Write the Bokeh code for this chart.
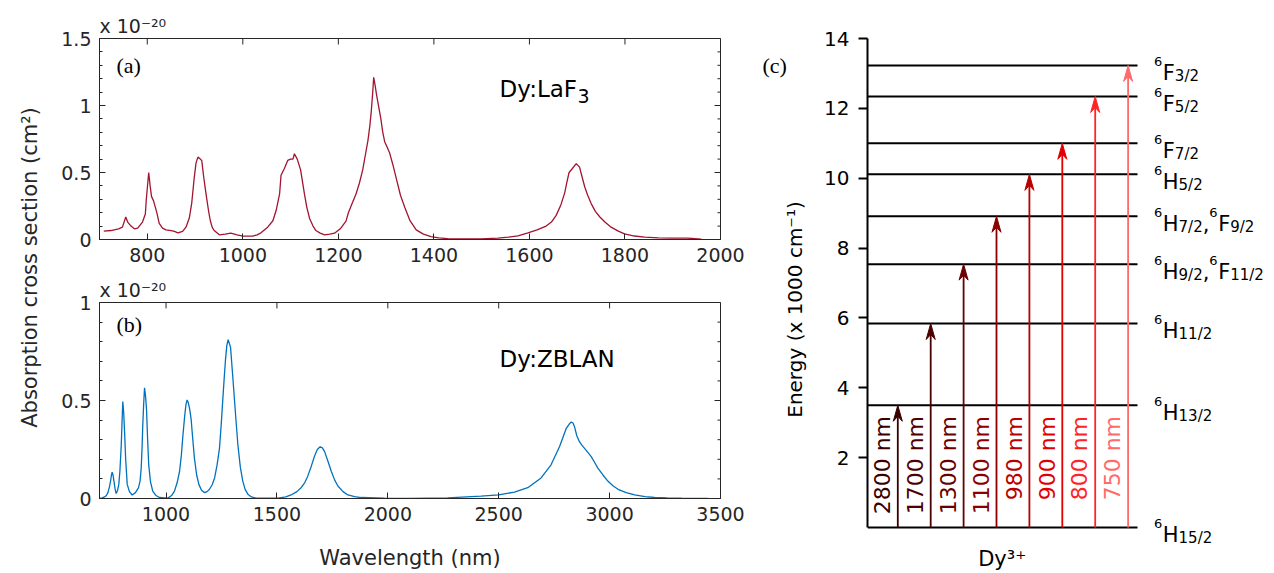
import math
from bokeh.plotting import figure
from bokeh.layouts import row, column
from bokeh.models import Range1d, FixedTicker, Label, NumeralTickFormatter, ColumnDataSource
from bokeh.core.properties import value
from bokeh.embed import file_html
from bokeh.resources import INLINE

# ---------------- data ----------------
laf3_wl = [709, 724, 740, 748, 755, 759, 766, 773, 780, 790, 796, 798, 803, 806, 809, 813, 820, 825, 832, 839,
           850, 857, 864, 874, 881, 888, 893, 898, 902, 906, 911, 914, 918, 923, 928, 932, 936, 940, 951, 963,
           975, 988, 1000, 1021, 1030, 1038, 1052, 1063, 1070, 1077, 1080, 1087, 1094, 1100, 1105, 1108, 1114,
           1121, 1125, 1129, 1134, 1140, 1147, 1153, 1162, 1171, 1182, 1192, 1204, 1216, 1221, 1229, 1237, 1244,
           1251, 1257, 1262, 1266, 1269, 1272, 1274, 1277, 1280, 1285, 1289, 1293, 1297, 1302, 1307, 1314, 1321,
           1330, 1339, 1350, 1363, 1378, 1394, 1410, 1429, 1460, 1499, 1534, 1556, 1576, 1597, 1616, 1635, 1646,
           1656, 1666, 1674, 1678, 1683, 1690, 1698, 1705, 1710, 1716, 1722, 1729, 1738, 1747, 1758, 1771, 1785,
           1799, 1820, 1841, 1870, 1897, 1932, 1960]
laf3_cs = [0.062, 0.067, 0.080, 0.092, 0.168, 0.13, 0.10, 0.08, 0.085, 0.13, 0.19, 0.30, 0.50, 0.40, 0.32, 0.29,
           0.20, 0.12, 0.085, 0.072, 0.067, 0.060, 0.050, 0.060, 0.092, 0.16, 0.27, 0.45, 0.57, 0.615, 0.60, 0.59,
           0.47, 0.34, 0.22, 0.14, 0.09, 0.067, 0.035, 0.040, 0.047, 0.035, 0.025, 0.025, 0.035, 0.050, 0.092,
           0.14, 0.22, 0.34, 0.48, 0.53, 0.59, 0.60, 0.60, 0.64, 0.60, 0.52, 0.43, 0.34, 0.24, 0.155, 0.10,
           0.067, 0.048, 0.035, 0.040, 0.047, 0.08, 0.137, 0.20, 0.27, 0.34, 0.42, 0.52, 0.64, 0.74, 0.85, 0.96,
           1.10, 1.21, 1.15, 1.08, 0.98, 0.90, 0.80, 0.73, 0.69, 0.65, 0.56, 0.46, 0.33, 0.24, 0.14, 0.072, 0.04,
           0.022, 0.012, 0.007, 0.005, 0.005, 0.010, 0.017, 0.027, 0.050, 0.072, 0.10, 0.13, 0.18, 0.26, 0.35,
           0.42, 0.50, 0.53, 0.566, 0.54, 0.47, 0.39, 0.33, 0.27, 0.21, 0.17, 0.13, 0.092, 0.064, 0.042, 0.026,
           0.017, 0.012, 0.010, 0.010, 0.002]

zblan_wl = [700, 712, 723, 731, 738, 745, 750, 754, 757, 761, 765, 770, 775, 781, 787, 792, 798, 802, 805, 809,
            813, 818, 825, 835, 847, 862, 876, 883, 888, 892, 895, 899, 903, 907, 912, 917, 922, 930, 940, 955,
            970, 1008, 1025, 1038, 1050, 1061, 1069, 1076, 1084, 1090, 1095, 1100, 1106, 1113, 1120, 1128, 1138,
            1148, 1160, 1174, 1185, 1196, 1208, 1219, 1230, 1241, 1249, 1256, 1262, 1268, 1274, 1280, 1286, 1291,
            1297, 1304, 1314, 1324, 1335, 1346, 1357, 1369, 1385, 1406, 1504, 1540, 1564, 1590, 1609, 1625, 1639,
            1655, 1669, 1682, 1695, 1705, 1715, 1730, 1745, 1760, 1775, 1798, 1820, 1850, 1880, 1985, 2100, 2270,
            2420, 2500, 2571, 2631, 2691, 2736, 2774, 2804, 2818, 2827, 2835, 2842, 2852, 2864, 2875, 2887, 2902,
            2917, 2932, 2947, 2970, 2992, 3015, 3038, 3075, 3113, 3160, 3203, 3260, 3324, 3444]
zblan_cs = [0.000, 0.003, 0.008, 0.015, 0.030, 0.060, 0.090, 0.120, 0.134, 0.120, 0.090, 0.050, 0.025, 0.040,
            0.072, 0.14, 0.27, 0.40, 0.495, 0.44, 0.34, 0.20, 0.072, 0.035, 0.018, 0.030, 0.055, 0.09, 0.155,
            0.26, 0.37, 0.48, 0.565, 0.53, 0.456, 0.30, 0.17, 0.085, 0.038, 0.015, 0.005, 0.002, 0.015, 0.038,
            0.08, 0.139, 0.22, 0.32, 0.42, 0.48, 0.503, 0.49, 0.46, 0.406, 0.31, 0.206, 0.12, 0.072, 0.042, 0.030,
            0.035, 0.047, 0.07, 0.105, 0.17, 0.256, 0.38, 0.507, 0.61, 0.707, 0.78, 0.81, 0.79, 0.77, 0.68,
            0.574, 0.42, 0.273, 0.16, 0.089, 0.045, 0.022, 0.008, 0.002, 0.002, 0.008, 0.018, 0.035, 0.055, 0.08,
            0.114, 0.165, 0.214, 0.25, 0.264, 0.258, 0.239, 0.19, 0.139, 0.095, 0.064, 0.035, 0.018, 0.010,
            0.005, 0.002, 0.001, 0.003, 0.012, 0.018, 0.033, 0.055, 0.105, 0.172, 0.264, 0.356, 0.38, 0.39,
            0.385, 0.365, 0.32, 0.29, 0.272, 0.256, 0.235, 0.214, 0.185, 0.155, 0.12, 0.089, 0.065, 0.047, 0.030,
            0.018, 0.010, 0.005, 0.003, 0.002, 0.001]

a_xticks = [800, 1000, 1200, 1400, 1600, 1800, 2000]
a_yticks = [0, 0.5, 1, 1.5]
b_xticks = [1000, 1500, 2000, 2500, 3000, 3500]
b_yticks = [0, 0.5, 1]
c_yticks = [2, 4, 6, 8, 10, 12, 14]

# energy levels of Dy3+ (x1000 cm^-1) and their term labels (multiplicity, letter, J)
level_energy = [0.0, 3.50, 5.84, 7.54, 8.91, 10.11, 11.00, 12.34, 13.23]
level_terms = [[("6", "H", "15/2")], [("6", "H", "13/2")], [("6", "H", "11/2")],
               [("6", "H", "9/2"), ("6", "F", "11/2")], [("6", "H", "7/2"), ("6", "F", "9/2")],
               [("6", "H", "5/2")], [("6", "F", "7/2")], [("6", "F", "5/2")], [("6", "F", "3/2")]]
pump_wl = ["2800 nm", "1700 nm", "1300 nm", "1100 nm", "980 nm", "900 nm", "800 nm", "750 nm"]
pump_target = [1, 2, 3, 4, 5, 6, 7, 8]
pump_colors = ["#3a0000", "#4c0000", "#680000", "#8a0000", "#b80000", "#e00000", "#ff2424", "#ff6a6a"]

# ---------------- styling helpers ----------------
AX = "#262626"
FONT = "DejaVu Sans"
SERIF = "Liberation Serif"
TOTAL_H = 572
TOP = 38


def strip(w, h):
    f = figure(width=w, height=h, x_range=Range1d(0, w), y_range=Range1d(0, h - TOP),
               output_backend="svg", toolbar_location=None, x_axis_location=None, y_axis_location=None,
               min_border=0, min_border_top=TOP)
    f.outline_line_color = None
    f.grid.visible = False
    return f


def style_axis(ax, ticks, minor, fmt=None):
    ax.ticker = FixedTicker(ticks=ticks, minor_ticks=minor)
    ax.axis_line_color = AX
    ax.axis_line_width = 1
    ax.major_tick_line_color = AX
    ax.minor_tick_line_color = AX
    ax.major_tick_in = 6
    ax.major_tick_out = 0
    ax.minor_tick_in = 3
    ax.minor_tick_out = 0
    ax.major_label_text_font = FONT
    ax.major_label_text_font_size = "19px"
    ax.major_label_text_color = AX
    ax.major_label_standoff = 8
    if fmt is not None:
        ax.formatter = fmt


def spectrum_panel(w, h, xr, yr, xt, yt, ymin_step, btop, bbot, wl, cs, color, fw, fh):
    p = figure(width=w, height=h, x_range=Range1d(*xr), y_range=Range1d(*yr),
               output_backend="svg", toolbar_location=None, title="x 10⁻²⁰",
               min_border_left=46, min_border_right=w - 46 - fw, min_border_top=btop, min_border_bottom=bbot)
    p.title.align = "left"
    p.title.text_font = FONT
    p.title.text_font_size = "19px"
    p.title.text_font_style = "normal"
    p.title.text_color = AX
    p.title.standoff = 3
    p.title.offset = 0
    p.grid.visible = False
    p.outline_line_color = AX
    p.outline_line_width = 1
    n = int(round((yr[1] - yr[0]) / ymin_step))
    yminor = [round(yr[0] + i * ymin_step, 3) for i in range(n + 1)]
    style_axis(p.xaxis[0], xt, [])
    style_axis(p.yaxis[0], yt, yminor, fmt=NumeralTickFormatter(format="0.[0]"))
    # mirrored ticks on top and right edges of the box
    xpx = (xr[1] - xr[0]) / fw
    ypx = (yr[1] - yr[0]) / fh
    p.segment(x0=xt, y0=[yr[1]] * len(xt), x1=xt, y1=[yr[1] - 6 * ypx] * len(xt), line_color=AX, line_width=1)
    p.segment(x0=[xr[1]] * len(yt), y0=yt, x1=[xr[1] - 6 * xpx] * len(yt), y1=yt, line_color=AX, line_width=1)
    p.segment(x0=[xr[1]] * len(yminor), y0=yminor, x1=[xr[1] - 3 * xpx] * len(yminor), y1=yminor,
              line_color=AX, line_width=1)
    p.line(wl, cs, line_color=color, line_width=1.3)
    return p, xpx, ypx


# ---------------- shared y label strip ----------------
pl = strip(53, TOTAL_H)
pl.text(x=[29], y=[TOTAL_H - 267], text=["Absorption cross section (cm²)"], angle=math.pi / 2,
        text_font=value(FONT), text_font_size="21px", text_color=AX,
        text_align="center", text_baseline="middle")

# ---------------- panel (a) ----------------
FWID = 621
pa, ax_px, ay_px = spectrum_panel(707, 270, (700, 2000), (0, 1.5), a_xticks, a_yticks, 0.1, TOP, 31,
                                  laf3_wl, laf3_cs, "#a2142f", FWID, 201)
pa.add_layout(Label(x=700 + 17 * ax_px, y=1.5 - 27 * ay_px, text="(a)", text_font=SERIF, text_font_size="22px",
                    text_color="black", text_baseline="middle", text_align="left"))
pa.add_layout(Label(x=700 + 400 * ax_px, y=1.5 - 50 * ay_px, text="Dy:LaF", text_font=FONT, text_font_size="23px",
                    text_color="black", text_baseline="middle", text_align="left"))
pa.add_layout(Label(x=700 + 478 * ax_px, y=1.5 - 57 * ay_px, text="3", text_font=FONT, text_font_size="19px",
                    text_color="black", text_baseline="middle", text_align="left"))

# ---------------- panel (b) ----------------
pb, bx_px, by_px = spectrum_panel(707, TOTAL_H - 270, (700, 3500), (0, 1), b_xticks, b_yticks, 0.1, 32,
                                  TOTAL_H - 270 - 32 - 199, zblan_wl, zblan_cs, "#0072bd", FWID, 199)
pb.xaxis[0].axis_label = "Wavelength (nm)"
pb.xaxis[0].axis_label_text_font = FONT
pb.xaxis[0].axis_label_text_font_size = "21px"
pb.xaxis[0].axis_label_text_font_style = "normal"
pb.xaxis[0].axis_label_text_color = AX
pb.xaxis[0].axis_label_standoff = 22
pb.add_layout(Label(x=700 + 17 * bx_px, y=1 - 22 * by_px, text="(b)", text_font=SERIF, text_font_size="22px",
                    text_color="black", text_baseline="middle", text_align="left"))
pb.add_layout(Label(x=700 + 400 * bx_px, y=1 - 57 * by_px, text="Dy:ZBLAN", text_font=FONT, text_font_size="23px",
                    text_color="black", text_baseline="middle", text_align="left"))

# ---------------- strip left of panel (c) ----------------
pm = strip(52, TOTAL_H)
pm.text(x=[2], y=[TOTAL_H - 65], text=["(c)"], text_font=value(SERIF), text_font_size="22px",
        text_color="black", text_align="left", text_baseline="middle")
pm.text(x=[34], y=[TOTAL_H - 309], text=["Energy (x 1000 cm⁻¹)"], angle=math.pi / 2,
        text_font=value(FONT), text_font_size="20px", text_color="black",
        text_align="center", text_baseline="middle")

# ---------------- panel (c) ----------------
XPX = 32.9
Y0_PX = 527
YPX = (Y0_PX - TOP) / 14.0
C_W = 458
C_LEFT = 55
FW = C_W - C_LEFT
YR = (14 - (TOTAL_H - TOP) / YPX, 14.0)
pc = figure(width=C_W, height=TOTAL_H, x_range=Range1d(0, FW / XPX), y_range=Range1d(*YR),
            output_backend="svg", toolbar_location=None, x_axis_location=None,
            min_border_left=C_LEFT, min_border_right=0, min_border_top=TOP, min_border_bottom=0)
pc.grid.visible = False
pc.outline_line_color = None
ya = pc.yaxis[0]
ya.ticker = FixedTicker(ticks=c_yticks)
ya.bounds = (0, 14)
ya.axis_line_color = "black"
ya.axis_line_width = 2
ya.major_tick_line_color = "black"
ya.major_tick_line_width = 2
ya.major_tick_in = 0
ya.major_tick_out = 9
ya.minor_tick_line_color = None
ya.major_label_text_font = FONT
ya.major_label_text_font_size = "20px"
ya.major_label_text_color = "black"
ya.major_label_standoff = 9


def dx(px):
    return px / XPX


def dy(px):
    return px / YPX


LINE_END = dx(270)
pc.segment(x0=[0] * len(level_energy), y0=level_energy, x1=[LINE_END] * len(level_energy), y1=level_energy,
           line_color="black", line_width=2)

# pump arrows
arrow_x = [dx(30.3 + 32.9 * i) for i in range(len(pump_wl))]
arrow_end = [level_energy[t] for t in pump_target]
pc.segment(x0=arrow_x, y0=[0] * len(arrow_x), x1=arrow_x, y1=[e - dy(10) for e in arrow_end],
           line_color=pump_colors, line_width=1.8)
hx = [[x, x - dx(4.5), x, x + dx(4.5)] for x in arrow_x]
hy = [[e, e - dy(16), e - dy(11), e - dy(16)] for e in arrow_end]
pc.patches(hx, hy, fill_color=pump_colors, line_color=pump_colors, line_width=1)
pc.text(x=[x - dx(15.3) for x in arrow_x], y=[dy(Y0_PX - 415.5)] * len(arrow_x),
        text=pump_wl, angle=math.pi / 2, text_align="right", text_baseline="middle",
        text_color=pump_colors, text_font=value(FONT), text_font_size="22px")

# level term labels composed of superscript / letter / subscript pieces
W = {"0": .636, "1": .636, "2": .636, "3": .636, "4": .636, "5": .636, "6": .636, "7": .636, "8": .636,
     "9": .636, "/": .337, ",": .318, "F": .575, "H": .752}


def tw(s, size):
    return sum(W[c] for c in s) * size


MAIN, SUP, SUB = 21, 13, 15
lx, ly, lt, ls = [], [], [], []
for E, terms in zip(level_energy, level_terms):
    cur = 286.5
    base = E - dy(7.5)
    for k, (mult, letter, J) in enumerate(terms):
        if k > 0:
            lx.append(dx(cur)); ly.append(base); lt.append(","); ls.append("%dpx" % MAIN)
            cur += tw(",", MAIN)
        lx.append(dx(cur)); ly.append(base + dy(11.5)); lt.append(mult); ls.append("%dpx" % SUP)
        cur += tw(mult, SUP) + 0.5
        lx.append(dx(cur)); ly.append(base); lt.append(letter); ls.append("%dpx" % MAIN)
        cur += tw(letter, MAIN)
        lx.append(dx(cur)); ly.append(base - dy(3)); lt.append(J); ls.append("%dpx" % SUB)
        cur += tw(J, SUB)
src = ColumnDataSource(dict(x=lx, y=ly, t=lt, s=ls))
pc.text(x="x", y="y", text="t", text_font_size="s", source=src, text_align="left",
        text_baseline="alphabetic", text_color="black", text_font=value(FONT))

pc.text(x=[dx(1001.7 - 867)], y=[dy(Y0_PX - 558)], text=["Dy³⁺"], text_font=value(FONT), text_font_size="21px",
        text_color="black", text_align="center", text_baseline="alphabetic")

layout = row(pl, column(pa, pb), pm, pc)
open("out.html", "w").write(file_html(layout, INLINE))
